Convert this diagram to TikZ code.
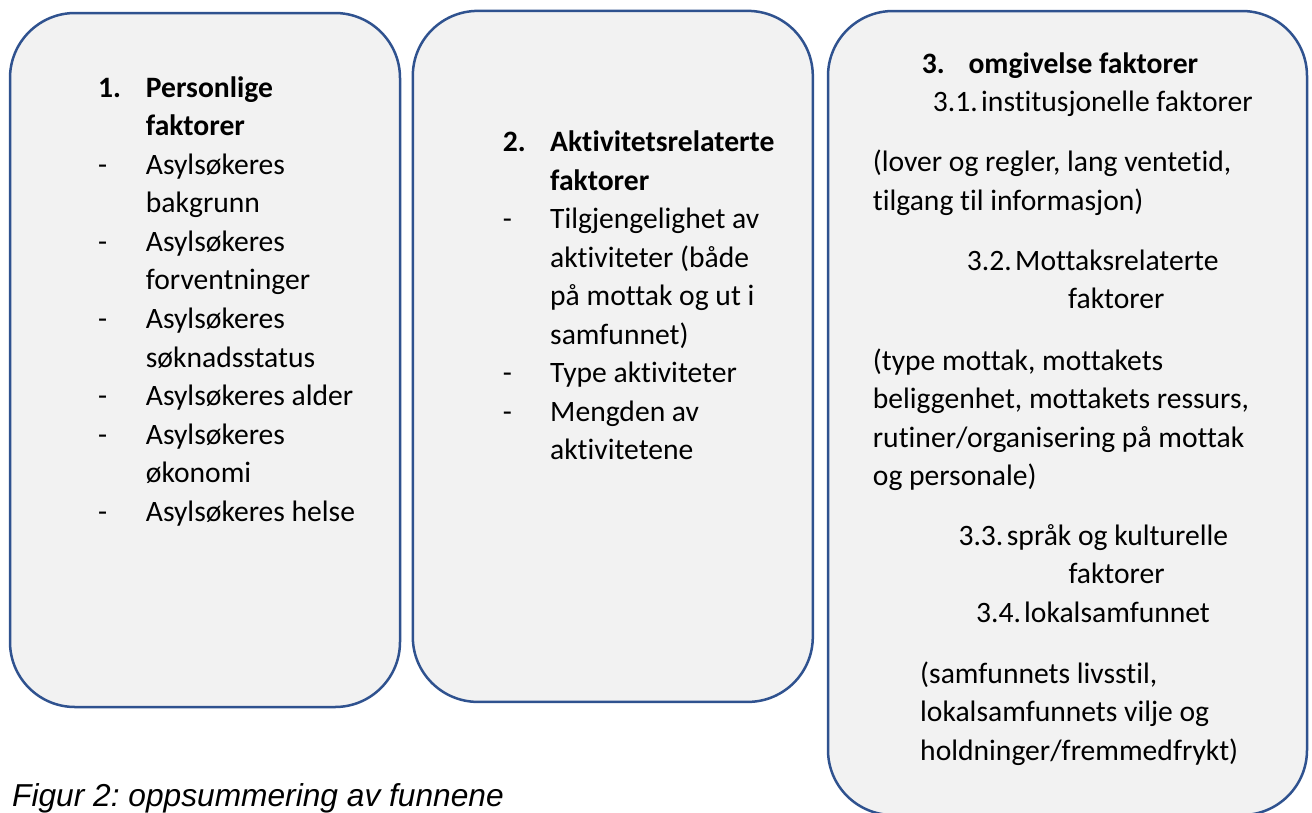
\documentclass[tikz,border=0pt]{standalone}
\usepackage{fontspec}
\setmainfont{Carlito}[Ligatures=NoCommon]
\newfontfamily\capfont{Liberation Sans}
\frenchspacing
\definecolor{boxline}{RGB}{47,82,143}
\definecolor{boxfill}{RGB}{242,242,242}
\begin{document}
\begin{tikzpicture}[x=1pt,y=-1pt,
  box/.style={draw=boxline, fill=boxfill, line width=2.5pt, rounded corners=65pt, inner sep=0pt},
  txt/.style={anchor=base west, inner sep=0pt, font=\fontsize{29.6}{34}\selectfont},
  hd/.style={txt, font=\fontsize{29.6}{34}\selectfont\bfseries},
  captext/.style={anchor=base west, inner sep=0pt, font=\fontsize{31.7}{36}\selectfont\capfont\itshape}]
\useasboundingbox (0,0) rectangle (1312,812);
\node[box, minimum width=390pt, minimum height=694pt] (b1) at (205,360) {};
\node[box, minimum width=400pt, minimum height=691pt] (b2) at (612.8,356.4) {};
\node[box, minimum width=479pt, minimum height=804pt] (b3) at (1067.5,413) {};
% box 1
\node[hd] (n1) at (98,97) {1.};
\node[hd] (h1a) at (145.7,97) {Personlige};
\node[hd] (h1b) at (145.7,135.5) {faktorer};
\node[txt] (d1a) at (98,174) {-};
\node[txt] (l1a) at (145.7,174) {Asylsøkeres};
\node[txt] (l1b) at (145.7,212.6) {bakgrunn};
\node[txt] (d1b) at (98,251.2) {-};
\node[txt] (l1c) at (145.7,251.2) {Asylsøkeres};
\node[txt] (l1d) at (145.7,289.8) {forventninger};
\node[txt] (d1c) at (98,328.4) {-};
\node[txt] (l1e) at (145.7,328.4) {Asylsøkeres};
\node[txt] (l1f) at (145.7,367) {søknadsstatus};
\node[txt] (d1d) at (98,405.6) {-};
\node[txt] (l1g) at (145.7,405.6) {Asylsøkeres alder};
\node[txt] (d1e) at (98,444.2) {-};
\node[txt] (l1h) at (145.7,444.2) {Asylsøkeres};
\node[txt] (l1i) at (145.7,482.8) {økonomi};
\node[txt] (d1f) at (98,521.4) {-};
\node[txt] (l1j) at (145.7,521.4) {Asylsøkeres helse};
% box 2
\node[hd] (n2) at (502.7,151.7) {2.};
\node[hd] (h2a) at (550,151.7) {Aktivitetsrelaterte};
\node[hd] (h2b) at (550,190.2) {faktorer};
\node[txt] (d2a) at (502.7,228.7) {-};
\node[txt] (l2a) at (550,228.7) {Tilgjengelighet av};
\node[txt] (l2b) at (550,267.2) {aktiviteter (både};
\node[txt] (l2c) at (550,305.7) {på mottak og ut i};
\node[txt] (l2d) at (550,344.2) {samfunnet)};
\node[txt] (d2b) at (502.7,382.7) {-};
\node[txt] (l2e) at (550,382.7) {Type aktiviteter};
\node[txt] (d2c) at (502.7,421.2) {-};
\node[txt] (l2f) at (550,421.2) {Mengden av};
\node[txt] (l2g) at (550,459.7) {aktivitetene};
% box 3
\node[hd] (n3) at (921.7,73.3) {3.};
\node[hd] (h3) at (968.3,73.3) {omgivelse faktorer};
\node[txt] (n31) at (932.7,111.7) {3.1.};
\node[txt] (s31) at (981,111.7) {institusjonelle faktorer};
\node[txt] (p31a) at (872.7,171.7) {(lover og regler, lang ventetid,};
\node[txt] (p31b) at (872.7,210) {tilgang til informasjon)};
\node[txt] (n32) at (966.7,270) {3.2.};
\node[txt] (s32a) at (1015,270) {Mottaksrelaterte};
\node[txt] (s32b) at (1068,308.5) {faktorer};
\node[txt] (p32a) at (872.7,370) {(type mottak, mottakets};
\node[txt] (p32b) at (872.7,408.5) {beliggenhet, mottakets ressurs,};
\node[txt] (p32c) at (872.7,447) {rutiner/organisering på mottak};
\node[txt] (p32d) at (872.7,485.5) {og personale)};
\node[txt] (n33) at (958.3,545.7) {3.3.};
\node[txt] (s33a) at (1006.7,545.7) {språk og kulturelle};
\node[txt] (s33b) at (1068.3,583) {faktorer};
\node[txt] (n34) at (976,622) {3.4.};
\node[txt] (s34) at (1024,622) {lokalsamfunnet};
\node[txt] (p34a) at (920,683) {(samfunnets livsstil,};
\node[txt] (p34b) at (920,721.5) {lokalsamfunnets vilje og};
\node[txt] (p34c) at (920,760) {holdninger/fremmedfrykt)};
% caption
\node[captext] (caption) at (12,806) {Figur 2: oppsummering av funnene};
\end{tikzpicture}
\end{document}
